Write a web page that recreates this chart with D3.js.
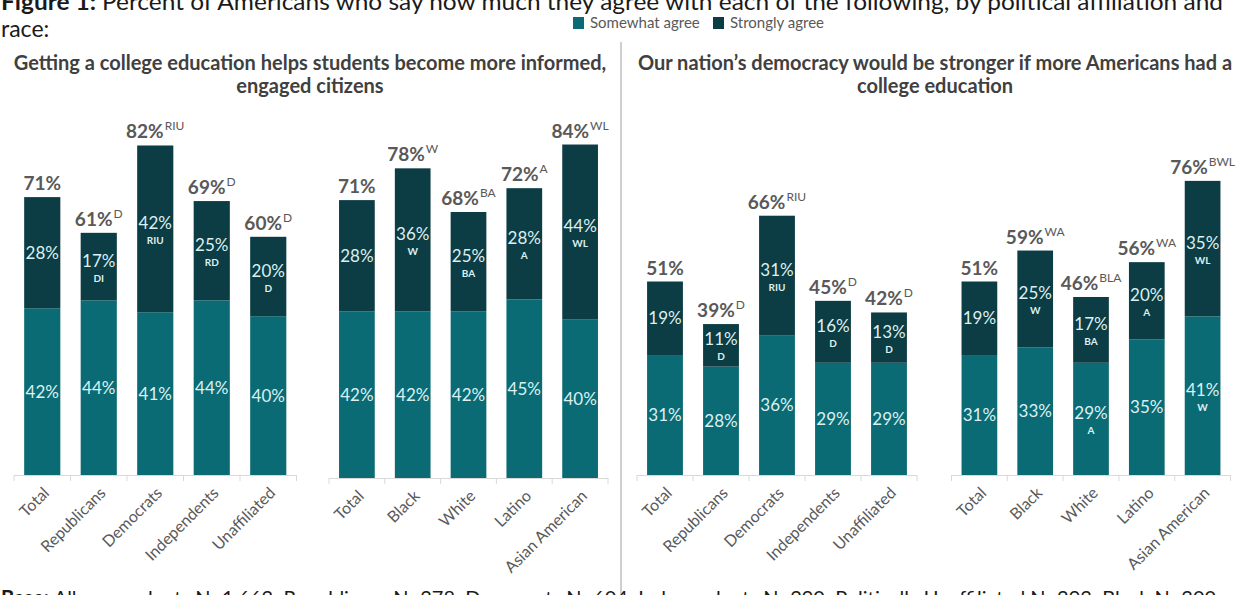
<!DOCTYPE html>
<html>
<head>
<meta charset="utf-8">
<script src="https://cdn.jsdelivr.net/npm/d3@7/dist/d3.min.js"></script>
<style>
  html, body { margin: 0; padding: 0; background: #fff; }
  svg { display: block; font-family: Lato, "Open Sans", sans-serif; }
</style>
</head>
<body>
<svg id="chart" width="1247" height="595"></svg>
<script>
// Survey results: share agreeing with each statement, split by party and by race
const partyCategories = ["Total", "Republicans", "Democrats", "Independents", "Unaffiliated"];
const raceCategories = ["Total", "Black", "White", "Latino", "Asian American"];

// Statement 1: college helps students become more informed, engaged citizens
const informedPartySomewhat = [42, 44, 41, 44, 40];
const informedPartyStrongly = [28, 17, 42, 25, 20];
const informedPartyTotal = [71, 61, 82, 69, 60];
const informedPartyTotalSig = ["", "D", "RIU", "D", "D"];
const informedPartyStrongSig = ["", "DI", "RIU", "RD", "D"];
const informedPartySomewhatSig = ["", "", "", "", ""];

const informedRaceSomewhat = [42, 42, 42, 45, 40];
const informedRaceStrongly = [28, 36, 25, 28, 44];
const informedRaceTotal = [71, 78, 68, 72, 84];
const informedRaceTotalSig = ["", "W", "BA", "A", "WL"];
const informedRaceStrongSig = ["", "W", "BA", "A", "WL"];
const informedRaceSomewhatSig = ["", "", "", "", ""];

// Statement 2: democracy would be stronger with more college-educated Americans
const democracyPartySomewhat = [31, 28, 36, 29, 29];
const democracyPartyStrongly = [19, 11, 31, 16, 13];
const democracyPartyTotal = [51, 39, 66, 45, 42];
const democracyPartyTotalSig = ["", "D", "RIU", "D", "D"];
const democracyPartyStrongSig = ["", "D", "RIU", "D", "D"];
const democracyPartySomewhatSig = ["", "", "", "", ""];

const democracyRaceSomewhat = [31, 33, 29, 35, 41];
const democracyRaceStrongly = [19, 25, 17, 20, 35];
const democracyRaceTotal = [51, 59, 46, 56, 76];
const democracyRaceTotalSig = ["", "WA", "BLA", "WA", "BWL"];
const democracyRaceStrongSig = ["", "W", "BA", "A", "WL"];
const democracyRaceSomewhatSig = ["", "", "A", "", "W"];

const seriesNames = ["Somewhat agree", "Strongly agree"];

const COLOR_SOMEWHAT = "#0b6b75";
const COLOR_STRONG = "#0c3c44";
const COLOR_INNER = "#dcf0f0";
const COLOR_LABEL = "#595959";

const svg = d3.select("#chart");

// Heading (first line runs off the top edge)
const heading = svg.append("text").attr("x", 1).attr("y", 10)
  .attr("font-size", 23).attr("fill", "#1a1a1a")
  .attr("textLength", 1222).attr("lengthAdjust", "spacingAndGlyphs");
heading.append("tspan").attr("font-weight", "bold").text("Figure 1: ");
heading.append("tspan").text("Percent of Americans who say how much they agree with each of the following, by political affiliation and");
svg.append("text").attr("x", 1).attr("y", 37).attr("font-size", 23)
  .attr("fill", "#1a1a1a").text("race:");

// Legend
const legend = svg.append("g");
[[573, COLOR_SOMEWHAT, seriesNames[0]], [713, COLOR_STRONG, seriesNames[1]]].forEach(([x, c, t]) => {
  legend.append("rect").attr("x", x).attr("y", 17).attr("width", 11).attr("height", 12).attr("fill", c);
  legend.append("text").attr("x", x + 17).attr("y", 28).attr("font-size", 15)
    .attr("fill", COLOR_LABEL).text(t);
});

// Panel headings
function panelTitle(cx, lines) {
  lines.forEach((l, i) => {
    svg.append("text").attr("x", cx).attr("y", 70 + i * 23)
      .attr("text-anchor", "middle").attr("font-size", 20).attr("font-weight", "bold")
      .attr("fill", "#404040").text(l);
  });
}
panelTitle(310, ["Getting a college education helps students become more informed,", "engaged citizens"]);
panelTitle(935, ["Our nation\u2019s democracy would be stronger if more Americans had a", "college education"]);

// Divider between the two statements
svg.append("line").attr("x1", 621).attr("x2", 621).attr("y1", 42).attr("y2", 595)
  .attr("stroke", "#bfbfbf").attr("stroke-width", 1.5);

// One stacked-bar group
function drawGroup(opts) {
  const { cats, somewhat, strongly, total, totalSig, strongSig, somewhatSig, x0, x1, base, pxPerPct } = opts;
  const x = d3.scaleBand().domain(cats).range([x0, x1]).paddingInner(0.36).paddingOuter(0.18);
  const y = d3.scaleLinear().domain([0, 100]).range([base, base - 100 * pxPerPct]);
  const g = svg.append("g");

  const rows = cats.map((c, i) => ({
    cat: c, s: somewhat[i], t: strongly[i], tot: total[i],
    totSig: totalSig[i], tSig: strongSig[i], sSig: somewhatSig[i]
  }));

  // somewhat segment
  g.selectAll("rect.sw").data(rows).join("rect").attr("class", "sw")
    .attr("x", d => x(d.cat)).attr("width", x.bandwidth())
    .attr("y", d => y(d.s)).attr("height", d => y(0) - y(d.s))
    .attr("fill", COLOR_SOMEWHAT);
  // strongly segment stacked on top
  g.selectAll("rect.st").data(rows).join("rect").attr("class", "st")
    .attr("x", d => x(d.cat)).attr("width", x.bandwidth())
    .attr("y", d => y(d.s + d.t)).attr("height", d => y(d.s) - y(d.s + d.t))
    .attr("fill", COLOR_STRONG);

  // in-bar labels
  function segLabel(d, lo, hi, val, sig) {
    const cx = x(d.cat) + x.bandwidth() / 2;
    const mid = (y(lo) + y(hi)) / 2;
    const off = sig ? -6 : 0;
    g.append("text").attr("x", cx).attr("y", mid + off + 6)
      .attr("text-anchor", "middle").attr("font-size", 17).attr("fill", COLOR_INNER)
      .text(val + "%");
    if (sig) {
      g.append("text").attr("x", cx).attr("y", mid + off + 21)
        .attr("text-anchor", "middle").attr("font-size", 10).attr("font-weight", "bold")
        .attr("fill", COLOR_INNER).text(sig);
    }
  }
  rows.forEach(d => {
    segLabel(d, 0, d.s, d.s, d.sSig);
    segLabel(d, d.s, d.s + d.t, d.t, d.tSig);
  });

  // totals above bars
  rows.forEach(d => {
    const cx = x(d.cat) + x.bandwidth() / 2;
    const t = g.append("text").attr("x", cx).attr("y", y(d.s + d.t) - 7)
      .attr("text-anchor", "middle").attr("fill", COLOR_LABEL);
    t.append("tspan").attr("font-size", 19).attr("font-weight", "bold").text(d.tot + "%");
    if (d.totSig) {
      t.append("tspan").attr("font-size", 12).attr("dy", -8).attr("dx", 1).text(d.totSig);
    }
  });

  // category axis
  const axis = g.append("g");
  axis.append("line").attr("x1", x0).attr("x2", x1).attr("y1", base + 0.5).attr("y2", base + 0.5)
    .attr("stroke", "#d9d9d9").attr("stroke-width", 1);
  const edges = cats.map(c => x(c) - x.step() * 0.18).concat([x1]);
  axis.selectAll("line.tk").data(edges).join("line").attr("class", "tk")
    .attr("x1", d => d).attr("x2", d => d).attr("y1", base).attr("y2", base + 6)
    .attr("stroke", "#d9d9d9");
  axis.selectAll("text").data(cats).join("text")
    .attr("transform", c => `translate(${x(c) + x.bandwidth() / 2 + 8},${base + 19}) rotate(-45)`)
    .attr("text-anchor", "end").attr("font-size", 16).attr("fill", COLOR_LABEL)
    .text(c => c);
}

drawGroup({ cats: partyCategories, somewhat: informedPartySomewhat, strongly: informedPartyStrongly,
  total: informedPartyTotal, totalSig: informedPartyTotalSig, strongSig: informedPartyStrongSig,
  somewhatSig: informedPartySomewhatSig, x0: 14, x1: 296.5, base: 475, pxPerPct: 3.97 });
drawGroup({ cats: raceCategories, somewhat: informedRaceSomewhat, strongly: informedRaceStrongly,
  total: informedRaceTotal, totalSig: informedRaceTotalSig, strongSig: informedRaceStrongSig,
  somewhatSig: informedRaceSomewhatSig, x0: 329, x1: 608, base: 478, pxPerPct: 3.97 });
drawGroup({ cats: partyCategories, somewhat: democracyPartySomewhat, strongly: democracyPartyStrongly,
  total: democracyPartyTotal, totalSig: democracyPartyTotalSig, strongSig: democracyPartyStrongSig,
  somewhatSig: democracyPartySomewhatSig, x0: 637, x1: 917, base: 475, pxPerPct: 3.87 });
drawGroup({ cats: raceCategories, somewhat: democracyRaceSomewhat, strongly: democracyRaceStrongly,
  total: democracyRaceTotal, totalSig: democracyRaceTotalSig, strongSig: democracyRaceStrongSig,
  somewhatSig: democracyRaceSomewhatSig, x0: 951.5, x1: 1230.5, base: 475, pxPerPct: 3.87 });

// Base sizes (runs off the bottom edge)
const note = svg.append("text").attr("x", 1).attr("y", 605).attr("font-size", 20).attr("fill", "#1a1a1a");
note.append("tspan").attr("font-weight", "bold").text("Base: ");
note.append("tspan").text("All respondents N=1,662; Republicans N=278; Democrats N=604; Independents N=290; Politically Unaffiliated N=293; Black N=300");
</script>
</body>
</html>
